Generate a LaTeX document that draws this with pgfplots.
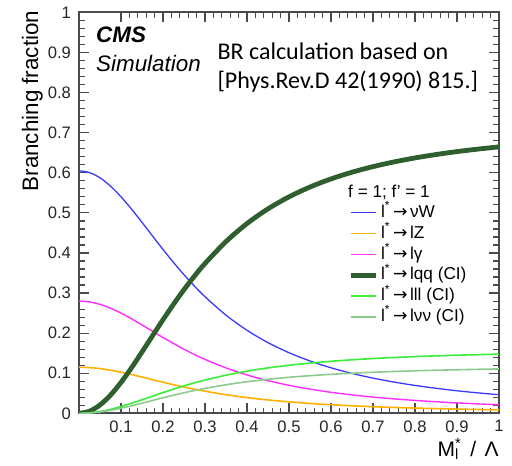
\documentclass[border=0pt]{standalone}
\usepackage{fontspec}
\setmainfont{Liberation Sans}
\newfontfamily\calibri{Carlito}
\newfontfamily\arrowfont{DejaVu Sans}
\usepackage{pgfplots}
\pgfplotsset{compat=1.18}
\usepackage{pgfplotstable}

\definecolor{axisgray}{HTML}{4A4A4A}
\definecolor{cW}{HTML}{3A3AFF}
\definecolor{cZ}{HTML}{FFB000}
\definecolor{cG}{HTML}{FF2EFF}
\definecolor{cQQ}{HTML}{2F5F2F}
\definecolor{cLLL}{HTML}{3AEE3A}
\definecolor{cNN}{HTML}{8CCB8C}

% arrow used in the decay labels
\newcommand{\decay}{\kern0.15em{\arrowfont →}\kern0.15em}

% branching fractions of the excited lepton vs M/Lambda (f = f' = 1)
\pgfplotstableread{
x      W       Z       gam     qq      lll     nunu
0      0.605   0.115   0.28    0       0       0
0.025  0.6005  0.1141  0.2779  0.0054  0.0012  0.0009
0.05   0.5874  0.1117  0.2718  0.0210  0.0047  0.0035
0.075  0.5667  0.1077  0.2623  0.0455  0.0101  0.0076
0.1    0.5402  0.1027  0.2500  0.0771  0.0171  0.0129
0.125  0.5095  0.0968  0.2358  0.1137  0.0253  0.0189
0.15   0.4764  0.0906  0.2205  0.1531  0.0340  0.0255
0.175  0.4424  0.0841  0.2048  0.1935  0.0430  0.0322
0.2    0.4088  0.0777  0.1892  0.2335  0.0519  0.0389
0.225  0.3764  0.0715  0.1742  0.2721  0.0605  0.0454
0.25   0.3457  0.0657  0.1600  0.3086  0.0686  0.0514
0.275  0.3172  0.0603  0.1468  0.3425  0.0761  0.0571
0.3    0.2909  0.0553  0.1346  0.3738  0.0831  0.0623
0.35   0.2449  0.0466  0.1134  0.4285  0.0952  0.0714
0.4    0.2072  0.0394  0.0959  0.4734  0.1052  0.0789
0.45   0.1764  0.0335  0.0816  0.5101  0.1134  0.0850
0.5    0.1513  0.0288  0.0700  0.5400  0.1200  0.0900
0.55   0.1307  0.0248  0.0605  0.5645  0.1254  0.0941
0.6    0.1137  0.0216  0.0526  0.5847  0.1299  0.0974
0.65   0.0997  0.0189  0.0461  0.6014  0.1336  0.1002
0.7    0.0879  0.0167  0.0407  0.6153  0.1367  0.1026
0.75   0.0781  0.0148  0.0361  0.6271  0.1394  0.1045
0.8    0.0697  0.0132  0.0323  0.6370  0.1416  0.1062
0.85   0.0626  0.0119  0.0290  0.6455  0.1435  0.1076
0.9    0.0564  0.0107  0.0261  0.6528  0.1451  0.1088
0.95   0.0511  0.0097  0.0237  0.6591  0.1465  0.1099
1      0.0465  0.0088  0.0215  0.6646  0.1477  0.1108
}\brtable

\begin{document}
\begin{tikzpicture}
\begin{axis}[
  scale only axis,
  width=210pt, height=200.5pt,
  xmin=0, xmax=1, ymin=0, ymax=1,
  xtick={0.1,0.2,0.3,0.4,0.5,0.6,0.7,0.8,0.9,1},
  ytick={0,0.1,0.2,0.3,0.4,0.5,0.6,0.7,0.8,0.9,1},
  minor tick num=4,
  tick align=inside,
  major tick length=5pt,
  minor tick length=2.8pt,
  axis line style={draw=axisgray, line width=0.9pt},
  every tick/.style={draw=axisgray, line width=0.6pt},
  tick label style={font=\fontsize{8.3}{10}\selectfont, text=black!85},
  yticklabel style={xshift=-0.5pt},
  /pgf/number format/.cd, fixed, precision=1, assume math mode=true,
  /pgfplots/.cd,
  legend cell align=left,
  legend image code/.code={\draw[#1] (0pt,0pt) -- (12.5pt,0pt);},
  legend style={
    at={(axis cs:0.64,0.522)}, anchor=north west,
    draw=none, fill=none, inner sep=0pt,
    font=\fontsize{8.6}{10}\selectfont,
    row sep=2.1pt,
    nodes={inner sep=0pt, text height=6.5pt, text depth=1.8pt},
    /tikz/every odd column/.append style={column sep=1.5pt},
  },
]
\addplot[cW, line width=0.65pt, smooth] table[x=x, y=W] {\brtable};
\addlegendentry{l\textsuperscript{*}\decay νW}
\addplot[cZ, line width=0.8pt, smooth] table[x=x, y=Z] {\brtable};
\addlegendentry{l\textsuperscript{*}\decay lZ}
\addplot[cG, line width=0.7pt, smooth] table[x=x, y=gam] {\brtable};
\addlegendentry{l\textsuperscript{*}\decay lγ}
\addplot[cQQ, line width=2.4pt, smooth] table[x=x, y=qq] {\brtable};
\addlegendentry{l\textsuperscript{*}\decay lqq (CI)}
\addplot[cLLL, line width=0.8pt, smooth] table[x=x, y=lll] {\brtable};
\addlegendentry{l\textsuperscript{*}\decay lll (CI)}
\addplot[cNN, line width=0.8pt, smooth] table[x=x, y=nunu] {\brtable};
\addlegendentry{l\textsuperscript{*}\decay lνν (CI)}

\node[anchor=base west, font=\fontsize{8.6}{10}\selectfont, inner sep=0pt]
  at (axis cs:0.64,0.539) {f = 1; f' = 1};
\node[anchor=base west, font=\fontsize{11.2}{13}\selectfont\bfseries\itshape, inner sep=0pt]
  at (axis cs:0.040,0.926) {CMS};
\node[anchor=base west, font=\fontsize{11.2}{13}\selectfont\itshape, inner sep=0pt]
  at (axis cs:0.040,0.852) {Simulation};
\node[anchor=base west, font=\calibri\fontsize{12}{14}\selectfont, inner sep=0pt]
  at (axis cs:0.329,0.883) {BR calculation based on};
\node[anchor=base west, font=\calibri\fontsize{12}{14}\selectfont, inner sep=0pt]
  at (axis cs:0.329,0.810) {[Phys.Rev.D 42(1990) 815.]};
\end{axis}

\node[anchor=base east, inner sep=0pt, font=\fontsize{10.5}{12}\selectfont]
  at ([yshift=-21.5pt]current axis.south east)
  {M\rlap{\textsubscript{l}}\textsuperscript{*}\hspace{0.4em}/\hspace{0.4em}Λ};
\node[rotate=90, anchor=base east, inner sep=0pt, font=\fontsize{11.2}{13}\selectfont]
  at ([xshift=-20.5pt, yshift=1pt]current axis.north west) {Branching fraction};

\path ([shift={(-39.5pt,-26pt)}]current axis.south west)
  rectangle ([shift={(6.5pt,6pt)}]current axis.north east);
\end{tikzpicture}
\end{document}
